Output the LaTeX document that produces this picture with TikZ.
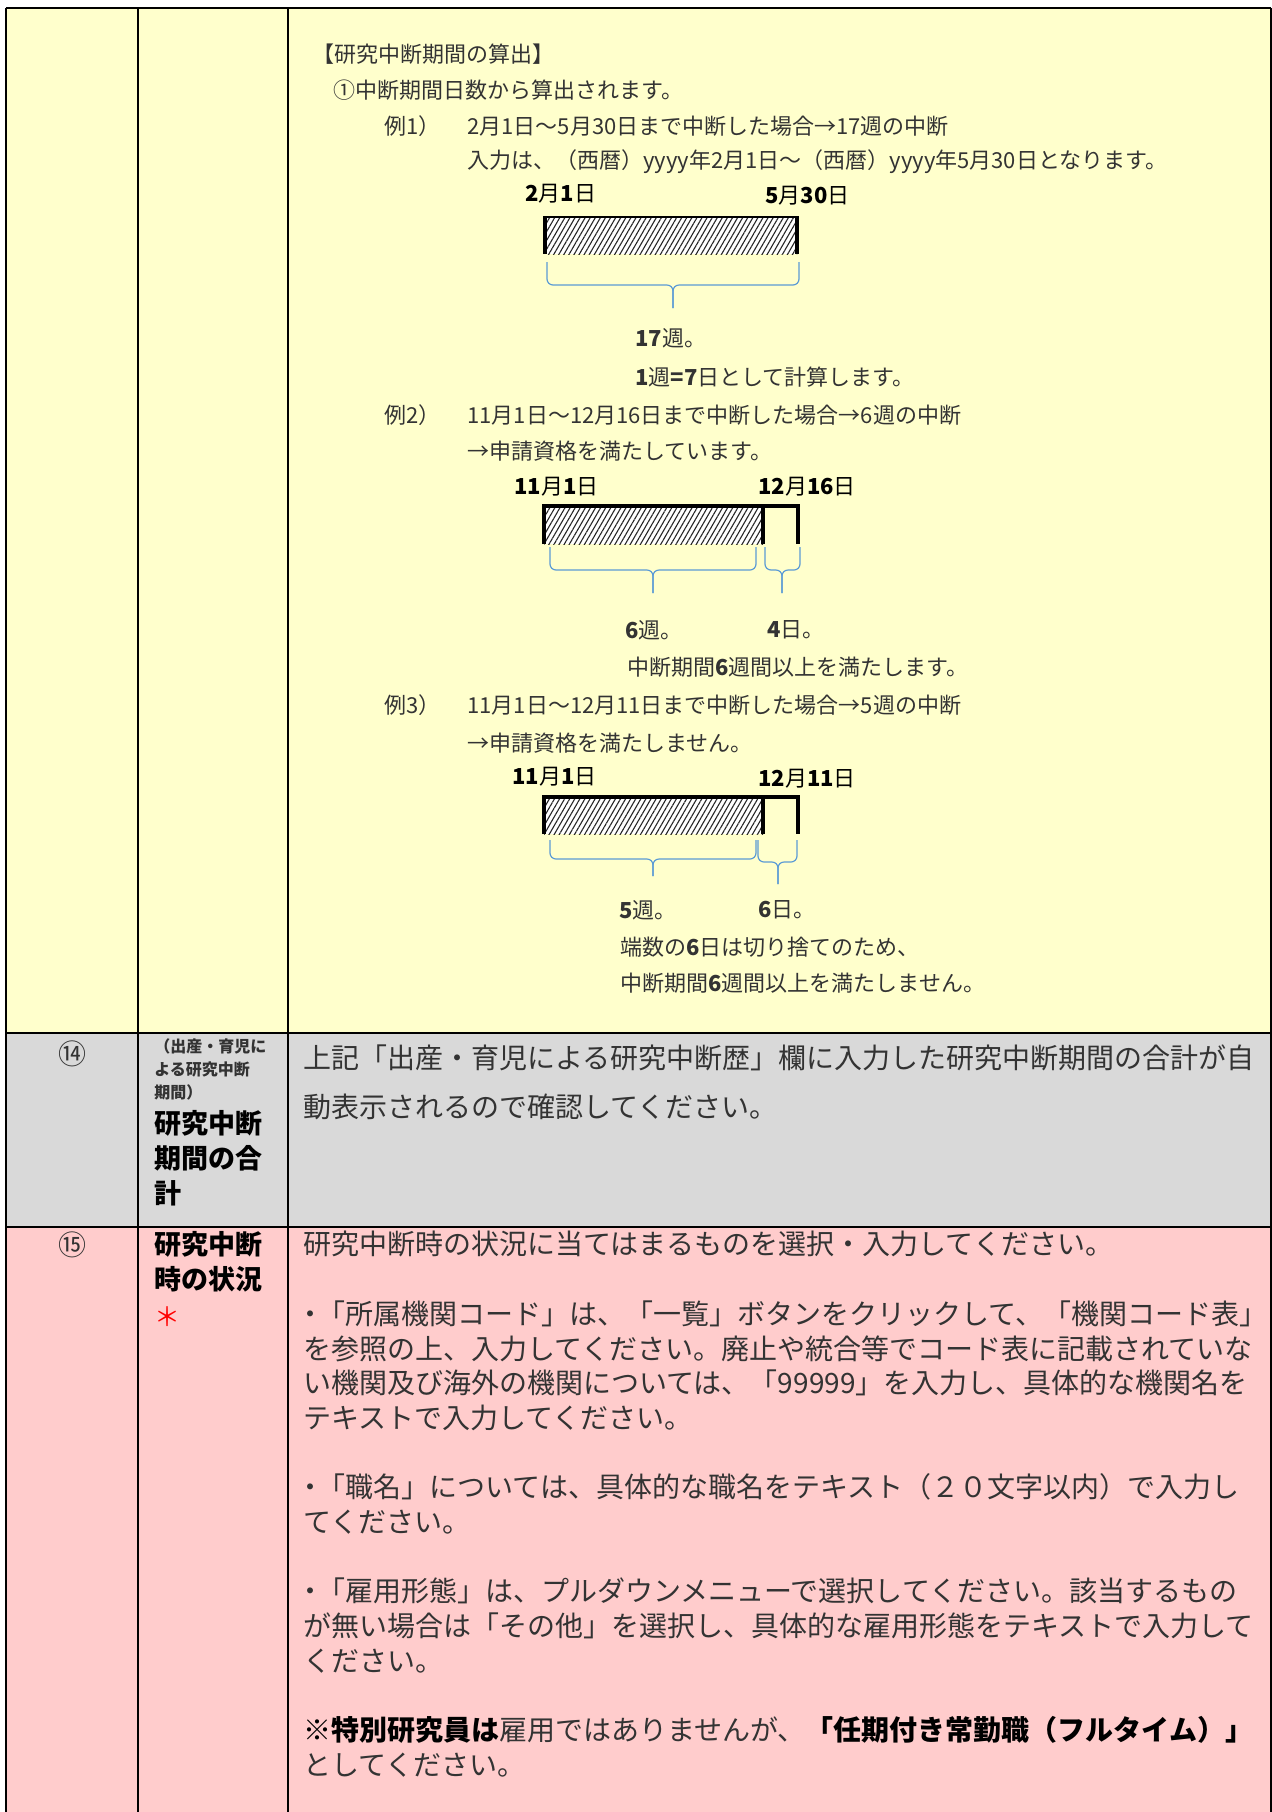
\documentclass[tikz,border=0pt]{standalone}
\usepackage{fontspec}
\setmainfont{Noto Sans CJK JP}
\usetikzlibrary{patterns.meta}
\definecolor{rowyellow}{HTML}{FFFFCC}
\definecolor{rowgray}{HTML}{D9D9D9}
\definecolor{rowpink}{HTML}{FFCCCC}
\definecolor{bracecol}{HTML}{5B9BD5}
\definecolor{txtcol}{HTML}{333333}
\newcommand{\dg}[1]{{\bfseries #1}}
\begin{document}
\begin{tikzpicture}[x=0.5pt,y=-0.5pt,
  txt/.style={anchor=west,inner sep=0,text=txtcol,font=\fontsize{11}{12}\selectfont},
  datelbl/.style={txt,text=black},
  para/.style={anchor=north west,inner sep=0,align=left,text=txtcol},
  curly/.style={draw=bracecol,line width=0.6pt,rounded corners=3pt},
  hatch/.style={pattern={Lines[angle=60,distance=2.2pt,line width=0.55pt]},pattern color=black!85}]
\useasboundingbox (0,0) rectangle (1272,1812);
% row colours
\fill[rowyellow] (6,8) rectangle (1271,1033);
\fill[rowgray] (6,1033) rectangle (1271,1227);
\fill[rowpink] (6,1227) rectangle (1271,1812);
% table rules
\draw[line width=1.2pt] (6,8)--(1271,8);
\draw[line width=1.2pt] (6,1033)--(1271,1033);
\draw[line width=1.2pt] (6,1227)--(1271,1227);
\draw[line width=1.2pt] (6,8)--(6,1812);
\draw[line width=1.2pt] (138,8)--(138,1812);
\draw[line width=1.2pt] (288,8)--(288,1812);
\draw[line width=1.2pt] (1271,8)--(1271,1812);

% example 1
\node[txt] (title) at (312,54) {【研究中断期間の算出】};
\node[txt] (rule1) at (333,90) {①中断期間日数から算出されます。};
\node[txt] (ex1) at (384,126) {例1）};
\node[txt] (ex1line) at (467,126) {2月1日～5月30日まで中断した場合→17週の中断};
\node[txt] (ex1input) at (467,162) {入力は、（西暦）yyyy年2月1日～（西暦）yyyy年5月30日となります。};
\node[datelbl] (ex1from) at (525,194) {\dg{2}月\dg{1}日};
\node[datelbl] (ex1to) at (765,196) {\dg{5}月\dg{30}日};
\fill[white] (545,216) rectangle (797,254);
\fill[hatch] (545,216) rectangle (797,254);
\draw[line width=1pt] (545,217)--(797,217);
\draw[line width=2pt] (545,216)--(545,254);
\draw[line width=2pt] (797,216)--(797,254);
\coordinate (b1a) at (547,262);
\coordinate (b1b) at (799,262);
\coordinate (b1tip) at (673,308);
\draw[curly] (b1a) -- ++(0,23) -| (b1tip);
\draw[curly] (b1b) -- ++(0,23) -| (b1tip);
\node[txt] (ex1weeks) at (635,338) {\dg{17}週。};
\node[txt] (ex1note) at (635,377) {\dg{1}週\dg{=7}日として計算します。};

% example 2
\node[txt] (ex2) at (384,415) {例2）};
\node[txt] (ex2line) at (467,415) {11月1日～12月16日まで中断した場合→6週の中断};
\node[txt] (ex2res) at (467,451) {→申請資格を満たしています。};
\node[datelbl] (ex2from) at (514,487) {\dg{11}月\dg{1}日};
\node[datelbl] (ex2to) at (758,487) {\dg{12}月\dg{16}日};
\fill[white] (544,506) rectangle (763,544);
\fill[hatch] (544,506) rectangle (763,544);
\draw[line width=2pt] (544,544)--(544,506)--(798,506)--(798,544);
\draw[line width=2pt] (763,506)--(763,544);
\coordinate (b2a) at (550,547);
\coordinate (b2b) at (756,547);
\coordinate (b2tip) at (653,593);
\coordinate (b2c) at (765,547);
\coordinate (b2d) at (800,547);
\coordinate (b2tip2) at (782,593);
\draw[curly] (b2a) -- ++(0,23) -| (b2tip);
\draw[curly] (b2b) -- ++(0,23) -| (b2tip);
\draw[curly] (b2c) -- ++(0,23) -| (b2tip2);
\draw[curly] (b2d) -- ++(0,23) -| (b2tip2);
\node[txt] (ex2weeks) at (625,630) {\dg{6}週。};
\node[txt] (ex2days) at (767,630) {\dg{4}日。};
\node[txt] (ex2note) at (627,667) {中断期間\dg{6}週間以上を満たします。};

% example 3
\node[txt] (ex3) at (384,705) {例3）};
\node[txt] (ex3line) at (467,705) {11月1日～12月11日まで中断した場合→5週の中断};
\node[txt] (ex3res) at (467,743) {→申請資格を満たしません。};
\node[datelbl] (ex3from) at (512,777) {\dg{11}月\dg{1}日};
\node[datelbl] (ex3to) at (758,779) {\dg{12}月\dg{11}日};
\fill[white] (544,797) rectangle (763,834);
\fill[hatch] (544,797) rectangle (763,834);
\draw[line width=2pt] (544,834)--(544,797)--(798,797)--(798,834);
\draw[line width=2pt] (763,797)--(763,834);
\coordinate (b3a) at (550,840);
\coordinate (b3b) at (756,840);
\coordinate (b3tip) at (653,876);
\coordinate (b3c) at (758,840);
\coordinate (b3d) at (797,840);
\coordinate (b3tip2) at (778,884);
\draw[curly] (b3a) -- ++(0,19) -| (b3tip);
\draw[curly] (b3b) -- ++(0,19) -| (b3tip);
\draw[curly] (b3c) -- ++(0,22) -| (b3tip2);
\draw[curly] (b3d) -- ++(0,22) -| (b3tip2);
\node[txt] (ex3weeks) at (619,910) {\dg{5}週。};
\node[txt] (ex3days) at (758,910) {\dg{6}日。};
\node[txt] (ex3note) at (620,947) {端数の\dg{6}日は切り捨てのため、};
\node[txt] (ex3note2) at (620,983) {中断期間\dg{6}週間以上を満たしません。};

% row 14
\node[text=txtcol,font=\fontsize{14}{16}\selectfont] (no14) at (72,1054) {⑭};
\node[para,font=\fontsize{8}{11.5}\selectfont\bfseries] (sub14) at (154,1038) {（出産・育児に\\よる研究中断\\期間）};
\node[para,font=\fontsize{13.5}{17.5}\selectfont\bfseries,text=black] (head14) at (154,1110) {研究中断\\期間の合\\計};
\node[para,font=\fontsize{14}{24.5}\selectfont] (body14) at (303,1044) {上記「出産・育児による研究中断歴」欄に入力した研究中断期間の合計が自\\動表示されるので確認してください。};

% row 15
\node[text=txtcol,font=\fontsize{14}{16}\selectfont] (no15) at (72,1245) {⑮};
\node[para,font=\fontsize{13.5}{17.5}\selectfont\bfseries,text=black] (head15) at (154,1231) {研究中断\\時の状況};
\node[txt,text=red,font=\fontsize{13}{14}\selectfont] (req15) at (154,1317) {＊};
\node[para,font=\fontsize{14}{17.35}\selectfont] (body15) at (303,1231) {研究中断時の状況に当てはまるものを選択・入力してください。\\[17.35pt]
\kern-.25em・\kern-.25em「所属機関コード」は、「一覧」ボタンをクリックして、「機関コード表」\\
を参照の上、入力してください。廃止や統合等でコード表に記載されていな\\
い機関及び海外の機関については、「99999」を入力し、具体的な機関名を\\
テキストで入力してください。\\[17.35pt]
\kern-.25em・\kern-.25em「職名」については、具体的な職名をテキスト（２０文字以内）で入力し\\
てください。\\[17.35pt]
\kern-.25em・\kern-.25em「雇用形態」は、プルダウンメニューで選択してください。該当するもの\\
が無い場合は「その他」を選択し、具体的な雇用形態をテキストで入力して\\
ください。\\[17.35pt]
{\bfseries\color{black}※特別研究員は}雇用ではありませんが、{\bfseries\color{black}「任期付き常勤職（フルタイム）」}\\
としてください。};
\end{tikzpicture}
\end{document}
